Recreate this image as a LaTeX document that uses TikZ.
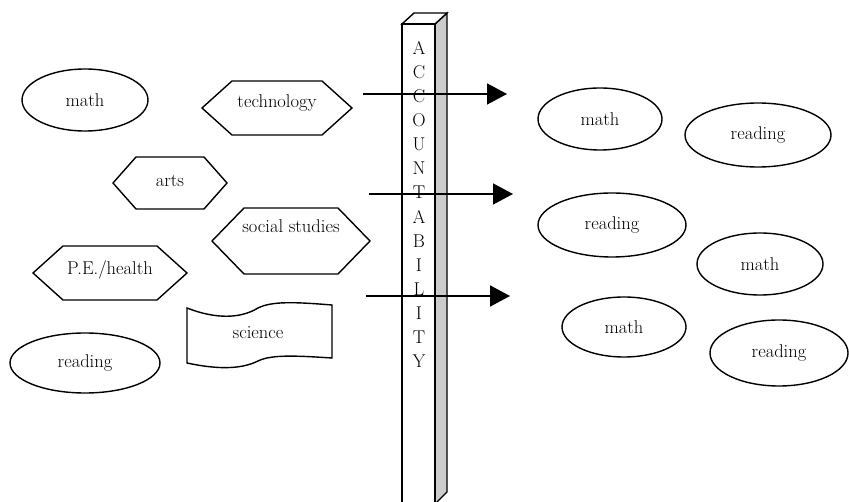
\documentclass[tikz,border=0pt]{standalone}
\usepackage{tikz}
\usetikzlibrary{shapes.geometric, arrows.meta}

\begin{document}
\begin{tikzpicture}[x=1pt, y=-1pt, line width=1.4pt,
    font=\fontsize{18.5}{20}\selectfont,
    bulle/.style={draw, ellipse, inner sep=0pt},
    fleche/.style={-{Triangle[length=20pt, width=21pt]}, line width=1.6pt}]
  \clip (0,0) rectangle (849,502);
  \fill[white] (0,0) rectangle (849,502);

  \foreach \nom/\x/\y/\rx/\ry/\matiere in {
      gmath/85/100/63/31/math, greading/85/363/75/30/reading,
      dmathA/600/119/62/31/math, dreadingA/758/135/73/32/reading,
      dreadingB/612/225/74/32/reading, dmathB/760/264/63/31/math,
      dmathC/624/327/62/30/math, dreadingC/779/353/69/33/reading} {
    \node[bulle, minimum width={2*\rx pt}, minimum height={2*\ry pt}] (\nom) at (\x,\y) {\matiere};
  }

  \foreach \nom/\x/\y/\l/\h/\d/\ty/\matiere in {
      techno/277/108/75/27/30/103/technology, arts/170/183/57/26/23/181/arts,
      social/291/241/79/33/32/226/social studies, sante/110/273/77/27/30/270/{P.E./health}} {
    \draw (\x-\l,\y) -- (\x-\l+\d,\y-\h) -- (\x+\l-\d,\y-\h) -- (\x+\l,\y)
      -- (\x+\l-\d,\y+\h) -- (\x-\l+\d,\y+\h) -- cycle;
    \node (\nom) at (\x,\ty) {\matiere};
  }

  \draw (187,308) .. controls (215,319) and (240,319) .. (258,308)
    .. controls (272,301) and (295,302) .. (332,305) -- (332,358)
    .. controls (300,356) and (272,354) .. (258,361)
    .. controls (240,370) and (215,369) .. (187,363) -- cycle;
  \node (science) at (258,333) {science};

  \draw[fill=gray!40] (435,24) -- (447,13) -- (447,492) -- (435,504) -- cycle;
  \draw[fill=white] (402,24) -- (414,13) -- (447,13) -- (435,24) -- cycle;
  \draw[fill=white] (402,510) -- (402,24) -- (435,24) -- (435,510);
  \foreach \lettre [count=\i] in {A,C,C,O,U,N,T,A,B,I,L,I,T,Y}
    \node (pilier\i) at (419,24+24.08*\i) {\lettre};

  \foreach \k/\y/\debut/\fin in {1/94/363/507, 2/194/369/513, 3/296/366/510} {
    \coordinate (depart\k) at (\debut,\y);
    \coordinate (arrivee\k) at (\fin,\y);
    \draw[fleche] (depart\k) -- (arrivee\k);
  }
\end{tikzpicture}
\end{document}
